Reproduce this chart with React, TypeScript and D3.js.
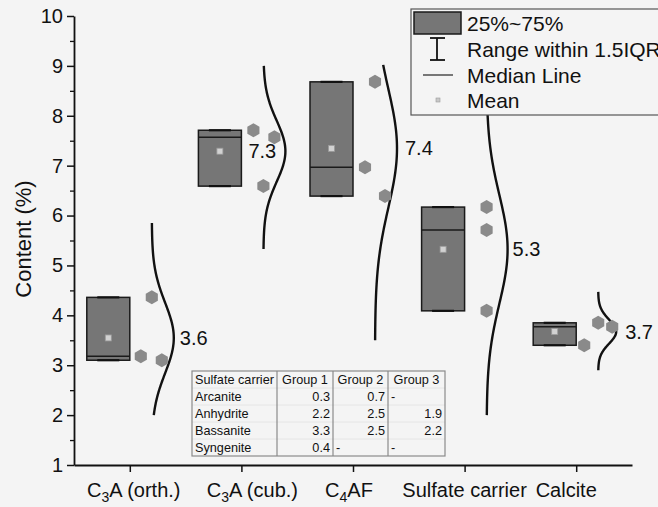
import { useEffect, useRef } from 'react'
import * as d3 from 'd3'

// category names, digit after the leading C is drawn as subscript
const categories = ['C3A (orth.)', 'C3A (cub.)', 'C4AF', 'Sulfate carrier', 'Calcite']

// measured contents (%) per category, three samples each
const orthValues = [4.36, 3.18, 3.10]
const cubValues = [7.71, 7.57, 6.59]
const c4afValues = [8.68, 6.97, 6.39]
const sulfateValues = [6.17, 5.71, 4.09]
const calciteValues = [3.85, 3.77, 3.40]
const seriesValues = [orthValues, cubValues, c4afValues, sulfateValues, calciteValues]

// mean labels as printed
const meanLabels = ['3.6', '7.3', '7.4', '5.3', '3.7']

// extent of the fitted normal curve (content %)
const curveLow = [2.0, 5.33, 3.5, 2.0, 2.9]
const curveHigh = [5.85, 9.0, 9.02, 9.0, 4.47]

const yTicks = [1, 2, 3, 4, 5, 6, 7, 8, 9, 10]
const yMinorTicks = [1.5, 2.5, 3.5, 4.5, 5.5, 6.5, 7.5, 8.5, 9.5]

// inset table
const tableHeader = ['Sulfate carrier', 'Group 1', 'Group 2', 'Group 3']
const carriers = ['Arcanite', 'Anhydrite', 'Bassanite', 'Syngenite']
const group1 = [0.3, 2.2, 3.3, 0.4]
const group2 = [0.7, 2.5, 2.5, null]
const group3 = [null, 1.9, 2.2, null]

const legendItems = ['25%~75%', 'Range within 1.5IQR', 'Median Line', 'Mean']

// layout tweaks (px)
const pointJitter = [[0, -11, 10], [-10, 11, 0], [0, -10, 10], [0, 0, 0], [0, 14, -14]]
const labelOffset = [50, 7, 52, 48, 49]
const xLabelShift = [4, 11, -4, 0, -10]
const curveWidth = [22, 22, 22, 21, 18]

const FONT = '"Liberation Sans", Arial, Helvetica, sans-serif'
const BG = '#f4f4f4'
const BOX_FILL = '#767676'
const POINT_FILL = '#8a8a8a'

export default function App() {
  const svgRef = useRef<SVGSVGElement>(null)

  useEffect(() => {
    if (!svgRef.current) return
    const svg = d3.select(svgRef.current)
    svg.selectAll('*').remove()

    const width = 658
    const height = 507
    const margin = { top: 16, right: 26, bottom: 42, left: 74 }

    const x = d3.scaleLinear().domain([0.5, 5.5]).range([margin.left, width - margin.right])
    const y = d3.scaleLinear().domain([1, 10]).range([height - margin.bottom, margin.top])

    svg.append('rect').attr('width', width).attr('height', height).attr('fill', BG)

    const boxW = 43
    const hexagon = (r: number) => {
      const p = d3.path()
      d3.range(6).forEach(i => {
        const a = Math.PI / 3 * i - Math.PI / 2
        if (i === 0) p.moveTo(r * Math.cos(a), r * Math.sin(a))
        else p.lineTo(r * Math.cos(a), r * Math.sin(a))
      })
      p.closePath()
      return p.toString()
    }

    seriesValues.forEach((vals, i) => {
      const cx = x(i + 1)
      const mean = d3.mean(vals) as number
      const sd = d3.deviation(vals) as number
      const med = d3.median(vals) as number
      const lo = d3.min(vals) as number
      const hi = d3.max(vals) as number
      const base = cx + 22

      // normal curve fitted to the samples
      const steps = d3.range(0, 121).map(k => curveLow[i] + (curveHigh[i] - curveLow[i]) * k / 120)
      const line = d3.line<number>()
        .x(v => base + curveWidth[i] * Math.exp(-((v - mean) ** 2) / (2 * sd * sd)))
        .y(v => y(v))
        .curve(d3.curveBasis)
      svg.append('path')
        .attr('d', line(steps))
        .attr('fill', 'none')
        .attr('stroke', '#111')
        .attr('stroke-width', 2.4)

      // box
      const g = svg.append('g')
      g.append('rect')
        .attr('x', cx - boxW)
        .attr('y', y(hi))
        .attr('width', boxW)
        .attr('height', y(lo) - y(hi))
        .attr('fill', BOX_FILL)
        .attr('stroke', '#1a1a1a')
        .attr('stroke-width', 1.5)
      g.append('line')
        .attr('x1', cx - boxW).attr('x2', cx)
        .attr('y1', y(med)).attr('y2', y(med))
        .attr('stroke', '#1a1a1a').attr('stroke-width', 1.5)
      ;[lo, hi].forEach(v => {
        g.append('line')
          .attr('x1', cx - boxW / 2 - 11).attr('x2', cx - boxW / 2 + 11)
          .attr('y1', y(v)).attr('y2', y(v))
          .attr('stroke', '#111').attr('stroke-width', 2.2)
      })
      g.append('rect')
        .attr('x', cx - boxW / 2 - 3).attr('y', y(mean) - 3)
        .attr('width', 6).attr('height', 6)
        .attr('fill', '#d2d2d2').attr('stroke', '#9a9a9a').attr('stroke-width', 0.8)

      // samples
      vals.forEach((v, j) => {
        svg.append('path')
          .attr('d', hexagon(7))
          .attr('transform', `translate(${base + pointJitter[i][j]},${y(v)})`)
          .attr('fill', POINT_FILL)
      })

      svg.append('text')
        .attr('x', cx + labelOffset[i])
        .attr('y', y(mean) + 7)
        .style('font-family', FONT)
        .style('font-size', '20px')
        .style('fill', '#111')
        .text(meanLabels[i])
    })

    // y axis
    const yAxis = svg.append('g')
      .attr('transform', `translate(${margin.left},0)`)
      .call(d3.axisLeft(y).tickValues(yTicks).tickSize(7).tickSizeOuter(0).tickPadding(4).tickFormat(d3.format('d')))
    yAxis.select('.domain').attr('stroke', '#111').attr('stroke-width', 1.8)
    yAxis.selectAll('.tick line').attr('stroke', '#111').attr('stroke-width', 1.5)
    yAxis.selectAll('.tick text')
      .style('font-family', FONT).style('font-size', '20px').attr('fill', '#111')
    svg.append('g')
      .attr('transform', `translate(${margin.left},0)`)
      .call(d3.axisLeft(y).tickValues(yMinorTicks).tickSize(4).tickFormat(() => ''))
      .call(a => a.select('.domain').remove())
      .selectAll('.tick line').attr('stroke', '#111').attr('stroke-width', 1.3)

    // x axis
    const xAxis = svg.append('g')
      .attr('transform', `translate(0,${y(1)})`)
      .call(d3.axisBottom(x).tickValues([1, 2, 3, 4, 5]).tickSize(7).tickSizeOuter(0).tickFormat(() => ''))
    xAxis.select('.domain').attr('stroke', '#111').attr('stroke-width', 1.8)
    xAxis.selectAll('.tick line').attr('stroke', '#111').attr('stroke-width', 1.5)

    categories.forEach((name, i) => {
      const t = svg.append('text')
        .attr('x', x(i + 1) + xLabelShift[i])
        .attr('y', 497)
        .attr('text-anchor', 'middle')
        .style('font-family', FONT)
        .style('font-size', '20px')
        .style('fill', '#111')
      const m = name.match(/^C(\d)(.*)$/)
      if (m) {
        t.append('tspan').text('C')
        t.append('tspan').attr('dy', 5).style('font-size', '14px').text(m[1])
        t.append('tspan').attr('dy', -5).text(m[2])
      } else {
        t.text(name)
      }
    })

    svg.append('text')
      .attr('transform', `translate(31,239) rotate(-90)`)
      .attr('text-anchor', 'middle')
      .style('font-family', FONT)
      .style('font-size', '22px')
      .style('fill', '#111')
      .text('Content (%)')

    // inset table
    const tx = [192, 277, 333, 388, 445]
    const ty = 371
    const rowH = 17
    const tbl = svg.append('g').style('font-family', FONT).style('font-size', '12.7px').style('fill', '#111')
    d3.range(1, 5).forEach(r => {
      tbl.append('line')
        .attr('x1', tx[0]).attr('x2', tx[4])
        .attr('y1', ty + r * rowH).attr('y2', ty + r * rowH)
        .attr('stroke', '#e2e2e2').attr('stroke-width', 0.8)
    })
    tbl.append('rect')
      .attr('x', tx[0]).attr('y', ty)
      .attr('width', tx[4] - tx[0]).attr('height', rowH * 5)
      .attr('fill', 'none').attr('stroke', '#8a8a8a').attr('stroke-width', 1.2)
    tx.slice(1, 4).forEach(cx => {
      tbl.append('line')
        .attr('x1', cx).attr('x2', cx)
        .attr('y1', ty).attr('y2', ty + rowH * 5)
        .attr('stroke', '#8a8a8a').attr('stroke-width', 1.2)
    })
    tableHeader.forEach((h, c) => {
      tbl.append('text')
        .attr('x', c === 0 ? tx[0] + 3 : (tx[c] + tx[c + 1]) / 2)
        .attr('y', ty + rowH / 2 + 4.5)
        .attr('text-anchor', c === 0 ? 'start' : 'middle')
        .text(h)
    })
    const groups = [group1, group2, group3]
    carriers.forEach((name, r) => {
      const by = ty + rowH * (r + 1) + rowH / 2 + 4.5
      tbl.append('text').attr('x', tx[0] + 3).attr('y', by).text(name)
      groups.forEach((grp, c) => {
        const v = grp[r]
        tbl.append('text')
          .attr('x', v == null ? tx[c + 1] + 3 : tx[c + 2] - 3)
          .attr('y', by)
          .attr('text-anchor', v == null ? 'start' : 'end')
          .text(v == null ? '-' : d3.format('.1f')(v))
      })
    })

    // legend
    const lg = svg.append('g')
    lg.append('rect')
      .attr('x', 411).attr('y', 9).attr('width', 260).attr('height', 106)
      .attr('fill', BG).attr('stroke', '#555').attr('stroke-width', 1.2)
    lg.append('rect')
      .attr('x', 414).attr('y', 12).attr('width', 47).attr('height', 22)
      .attr('fill', BOX_FILL).attr('stroke', '#1a1a1a').attr('stroke-width', 1.5)
    lg.append('line').attr('x1', 437).attr('x2', 437).attr('y1', 38).attr('y2', 60)
      .attr('stroke', '#111').attr('stroke-width', 1.8)
    ;[38, 60].forEach(yy => {
      lg.append('line').attr('x1', 430).attr('x2', 445).attr('y1', yy).attr('y2', yy)
        .attr('stroke', '#111').attr('stroke-width', 1.8)
    })
    lg.append('line').attr('x1', 423).attr('x2', 453).attr('y1', 75).attr('y2', 75)
      .attr('stroke', '#222').attr('stroke-width', 1.2)
    lg.append('rect').attr('x', 436).attr('y', 98).attr('width', 4).attr('height', 4)
      .attr('fill', '#c8c8c8').attr('stroke', '#9a9a9a').attr('stroke-width', 0.6)
    const baselines = [31, 57, 83, 108]
    legendItems.forEach((label, k) => {
      lg.append('text')
        .attr('x', 467).attr('y', baselines[k])
        .style('font-family', FONT).style('font-size', '21px').style('fill', '#111')
        .text(label)
    })
  }, [])

  return (
    <div style={{ position: 'absolute', left: 0, top: 0 }}>
      <svg ref={svgRef} width={658} height={507} style={{ display: 'block' }}></svg>
    </div>
  )
}
